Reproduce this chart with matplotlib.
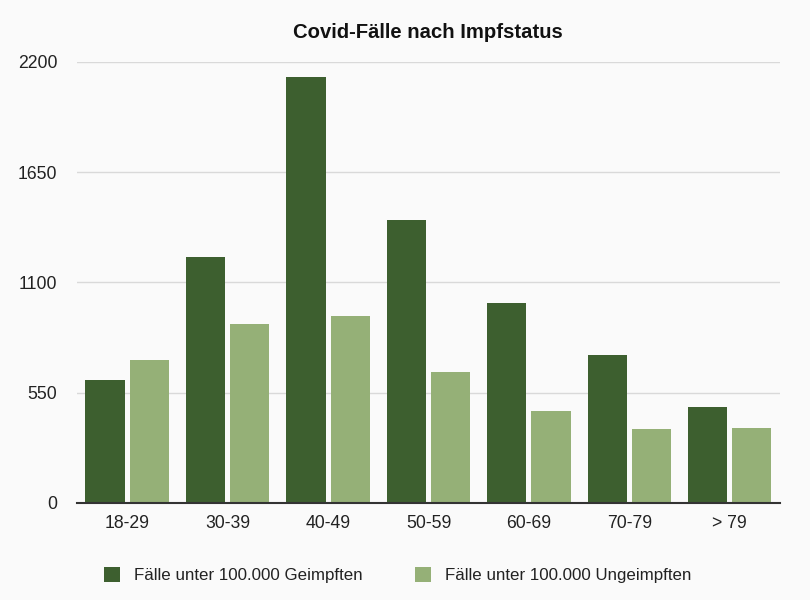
import numpy as np
import matplotlib.pyplot as plt

plt.rcParams['font.family'] = ['Liberation Sans', 'DejaVu Sans']

age_groups = ['18-29', '30-39', '40-49', '50-59', '60-69', '70-79', '> 79']
geimpft = [615, 1225, 2125, 1410, 1000, 740, 478]
ungeimpft = [711, 893, 935, 655, 460, 370, 375]
y_ticks = [0, 550, 1100, 1650, 2200]

dark = '#3d5f2f'
light = '#95b077'
bg = '#fafafa'

fig = plt.figure(figsize=(8.1, 6), dpi=100, facecolor=bg)
ax = fig.add_axes([0.095, 0.1617, 0.868, 0.735], facecolor=bg)

x = np.arange(len(age_groups))
w = 0.39
ax.bar(x - 0.22, geimpft, w, color=dark, label='Fälle unter 100.000 Geimpften', zorder=3)
ax.bar(x + 0.22, ungeimpft, w, color=light, label='Fälle unter 100.000 Ungeimpften', zorder=3)

ax.set_xlim(-0.5, len(age_groups) - 0.5)
ax.set_ylim(0, 2200)
ax.set_yticks(y_ticks)
ax.set_yticklabels([str(t) for t in y_ticks])
ax.set_xticks(x)
ax.set_xticklabels(age_groups)
ax.grid(axis='y', color='#d9d9d9', linewidth=1, zorder=0)
ax.tick_params(axis='both', length=0, labelsize=12.7, colors='#222222')
ax.tick_params(axis='y', pad=14)
ax.tick_params(axis='x', pad=9)
for s in ['top', 'right', 'left']:
    ax.spines[s].set_visible(False)
ax.spines['bottom'].set_color('#333333')
ax.spines['bottom'].set_linewidth(1.5)
ax.spines['bottom'].set_zorder(4)

fig.text(0.528, 0.945, 'Covid-Fälle nach Impfstatus', ha='center', va='center',
         fontsize=14.6, fontweight='bold', color='#111111')

fig.legend(loc='center', bbox_to_anchor=(0.491, 0.041), ncol=2, frameon=False,
           fontsize=12.2, handlelength=0.95, handleheight=0.95, columnspacing=3.1,
           handletextpad=0.8, labelcolor='#222222')

fig.savefig('out.png', dpi=100, facecolor=bg)
